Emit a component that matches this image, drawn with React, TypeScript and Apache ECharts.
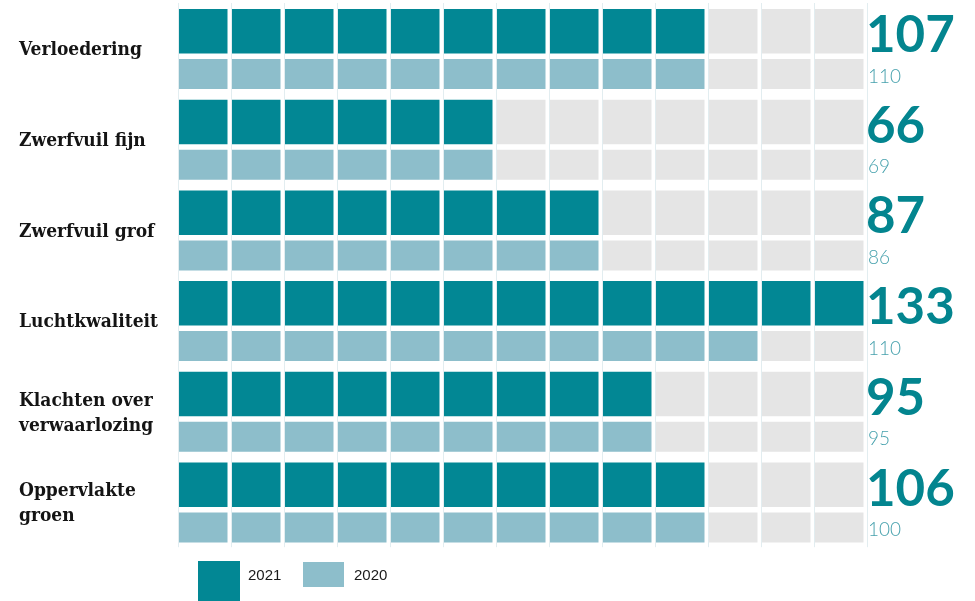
import React, { useEffect, useRef } from "react";
import * as echarts from "echarts";

const categories = [
  "Verloedering",
  "Zwerfvuil fijn",
  "Zwerfvuil grof",
  "Luchtkwaliteit",
  "Klachten over\nverwaarlozing",
  "Oppervlakte\ngroen",
];
const values2021 = [107, 66, 87, 133, 95, 106];
const values2020 = [110, 69, 86, 110, 95, 100];
const cells2021 = [10, 6, 8, 13, 9, 10];
const cells2020 = [10, 6, 8, 11, 9, 10];
const columnCount = 13;
const legendLabels = ["2021", "2020"];

const C2021 = "#028794";
const C2020 = "#8dbecb";
const CEMPTY = "#e5e5e5";

export default function App() {
  const ref = useRef<HTMLDivElement>(null);
  useEffect(() => {
    if (!ref.current) return;
    const chart = echarts.init(ref.current, undefined, { renderer: "svg" });

    const cellData: number[][] = [];
    categories.forEach((_, k) => {
      for (let c = 0; c < columnCount; c++) {
        cellData.push([c, k, 0, c < cells2021[k] ? 1 : 0]);
        cellData.push([c, k, 1, c < cells2020[k] ? 1 : 0]);
      }
    });
    const numData = categories.map((_, k) => [columnCount, k, values2021[k], values2020[k]]);

    chart.setOption({
      animation: false,
      grid: { left: 178, right: 108, top: 3, bottom: 53.8 },
      xAxis: {
        type: "value",
        min: 0,
        max: columnCount,
        interval: 1,
        axisLabel: { show: false },
        axisLine: { show: false },
        axisTick: { show: false },
        splitLine: { show: true, lineStyle: { color: "#e2edf0", width: 1 } },
      },
      yAxis: {
        type: "category",
        inverse: true,
        data: categories,
        axisLine: { show: false },
        axisTick: { show: false },
        splitLine: { show: false },
        axisLabel: {
          align: "left",
          margin: 159,
          color: "#141414",
          fontFamily: "'DejaVu Serif Condensed', 'DejaVu Serif', serif",
          fontWeight: "bold",
          fontSize: 19,
          lineHeight: 25,
        },
      },
      series: [
        {
          type: "custom",
          encode: { x: 0, y: 1 },
          data: cellData,
          renderItem: (params: any, api: any) => {
            const col = api.value(0);
            const cat = api.value(1);
            const s = api.value(2);
            const filled = api.value(3);
            const p0 = api.coord([col, cat]);
            const p1 = api.coord([col + 1, cat]);
            const bandH = api.size([0, 1])[1];
            const top = p0[1] - bandH / 2;
            const y = s === 0 ? top + 6 : top + 56;
            const h = s === 0 ? 44.5 : 30;
            return {
              type: "rect",
              shape: { x: p0[0] + 1, y, width: p1[0] - p0[0] - 4.5, height: h },
              style: { fill: filled ? (s === 0 ? C2021 : C2020) : CEMPTY },
            };
          },
        },
        {
          type: "custom",
          encode: { x: 0, y: 1 },
          data: numData,
          renderItem: (params: any, api: any) => {
            const p = api.coord([api.value(0), api.value(1)]);
            const bandH = api.size([0, 1])[1];
            const top = p[1] - bandH / 2;
            return {
              type: "group",
              children: [
                {
                  type: "text",
                  style: {
                    x: p[0] - 1,
                    y: top + 29.5,
                    text: String(api.value(2)),
                    fill: "#03858f",
                    font: "bold 51px Lato",
                    verticalAlign: "middle",
                    align: "left",
                  },
                },
                {
                  type: "text",
                  style: {
                    x: p[0] + 1,
                    y: top + 72,
                    text: String(api.value(3)),
                    fill: "#46a1ad",
                    font: "300 19px Lato",
                    verticalAlign: "middle",
                    align: "left",
                  },
                },
              ],
            };
          },
        },
      ],
      graphic: [
        { type: "rect", left: 198, top: 561, shape: { width: 42, height: 45 }, style: { fill: C2021 } },
        { type: "text", left: 248, top: 567, style: { text: legendLabels[0], fill: "#1a1a1a", font: "15px 'Liberation Sans', Arial, sans-serif" } },
        { type: "rect", left: 303, top: 562, shape: { width: 41, height: 25 }, style: { fill: C2020 } },
        { type: "text", left: 354, top: 567, style: { text: legendLabels[1], fill: "#1a1a1a", font: "15px 'Liberation Sans', Arial, sans-serif" } },
      ],
    });
    return () => chart.dispose();
  }, []);
  return <div ref={ref} style={{ position: "fixed", left: 0, top: 0, width: 975, height: 601 }} />;
}
